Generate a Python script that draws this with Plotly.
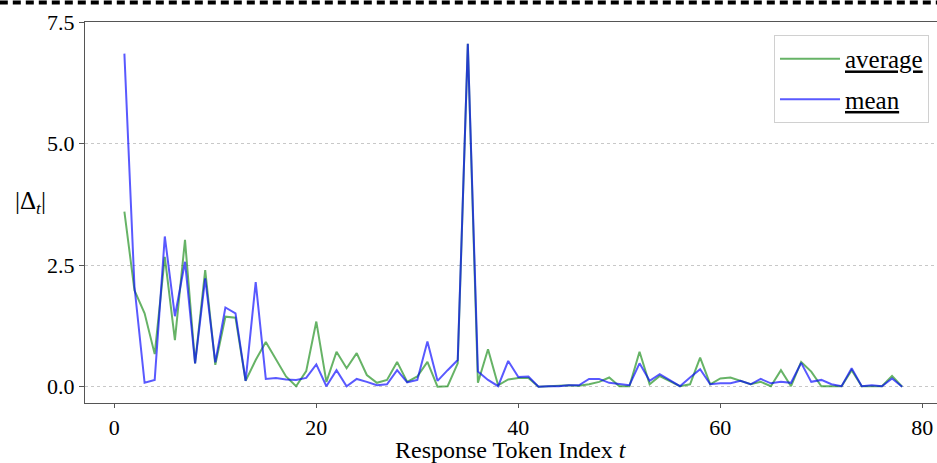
import plotly.graph_objects as go

t_index = list(range(1, 79))

average_vals = [
    3.60, 1.98, 1.51, 0.67, 2.67, 0.96, 3.02, 0.48, 2.40, 0.45,
    1.44, 1.42, 0.12, 0.55, 0.92, 0.55, 0.21, 0.01, 0.32, 1.34,
    0.10, 0.72, 0.38, 0.69, 0.24, 0.08, 0.14, 0.51, 0.10, 0.21,
    0.51, 0.00, 0.01, 0.48, 7.05, 0.08, 0.77, 0.03, 0.15, 0.18,
    0.18, 0.00, 0.01, 0.02, 0.03, 0.02, 0.05, 0.10, 0.19, 0.01,
    0.01, 0.72, 0.05, 0.22, 0.12, 0.01, 0.05, 0.60, 0.05, 0.17,
    0.19, 0.12, 0.05, 0.10, 0.01, 0.34, 0.01, 0.51, 0.31, 0.01,
    0.01, 0.01, 0.34, 0.01, 0.01, 0.01, 0.22, 0.00,
]

mean_vals = [
    6.85, 2.05, 0.08, 0.14, 3.09, 1.45, 2.57, 0.48, 2.23, 0.50,
    1.63, 1.51, 0.12, 2.15, 0.16, 0.18, 0.15, 0.14, 0.18, 0.46,
    0.01, 0.34, 0.01, 0.16, 0.10, 0.03, 0.05, 0.34, 0.09, 0.14,
    0.93, 0.12, 0.34, 0.55, 7.05, 0.31, 0.14, 0.01, 0.53, 0.20,
    0.21, 0.00, 0.01, 0.01, 0.03, 0.03, 0.16, 0.16, 0.08, 0.05,
    0.03, 0.48, 0.12, 0.26, 0.14, 0.01, 0.19, 0.36, 0.05, 0.07,
    0.07, 0.12, 0.05, 0.16, 0.07, 0.10, 0.08, 0.49, 0.10, 0.14,
    0.05, 0.01, 0.38, 0.01, 0.03, 0.01, 0.17, 0.00,
]

x_ticks = [0, 20, 40, 60, 80]
y_ticks = [0.0, 2.5, 5.0, 7.5]

FONT = "Liberation Serif, Times New Roman, serif"

fig = go.Figure()
fig.add_trace(go.Scatter(
    x=t_index, y=average_vals, mode="lines", name="<u>average</u>",
    line=dict(color="rgba(0,128,0,0.6)", width=2), legendgroup="a",
))
fig.add_trace(go.Scatter(
    x=t_index, y=mean_vals, mode="lines", name="<u>mean</u>",
    line=dict(color="rgba(0,0,255,0.65)", width=2), legendgroup="b",
))

fig.update_layout(
    width=937, height=463,
    margin=dict(l=85, r=0, t=22, b=60),
    paper_bgcolor="white", plot_bgcolor="white",
    font=dict(family=FONT, size=22, color="black"),
    showlegend=True,
    legend=dict(
        x=0.9906, y=0.966, xanchor="right", yanchor="top",
        bordercolor="#d0d0d0", borderwidth=1, bgcolor="white",
        font=dict(family=FONT, size=25, color="black"),
        traceorder="grouped", tracegroupgap=5, itemwidth=60,
    ),
    xaxis=dict(
        range=[-2.9, 81.45], tickvals=x_ticks, ticks="outside", ticklen=4,
        tickcolor="#555", showline=True, linecolor="#555", linewidth=1.3,
        mirror=True, showgrid=False, zeroline=False,
        tickfont=dict(family=FONT, size=22),
    ),
    yaxis=dict(
        range=[-0.335, 7.5], tickvals=y_ticks, tickformat=".1f",
        ticks="outside", ticklen=5, tickcolor="#555",
        showline=True, linecolor="#555", linewidth=1.3,
        showgrid=True, gridcolor="#c8c8c8", griddash="dot", gridwidth=1,
        zeroline=False, tickfont=dict(family=FONT, size=22),
    ),
    annotations=[
        dict(text="Response Token Index <i>t</i>", xref="paper", yref="paper",
             x=0.5, y=-0.124, xanchor="center", yanchor="middle",
             showarrow=False, font=dict(family=FONT, size=24)),
        dict(text="|Δ<sub><i>t</i></sub>|", xref="paper", yref="paper",
             x=-0.064, y=0.525, xanchor="center", yanchor="middle",
             showarrow=False, font=dict(family=FONT, size=25)),
    ],
    shapes=[
        dict(type="line", xref="paper", yref="paper",
             x0=-0.1, x1=1.0, y0=1.0512, y1=1.0512,
             line=dict(color="black", width=4, dash="8px,5px")),
    ],
)

fig.write_html("out.html")
